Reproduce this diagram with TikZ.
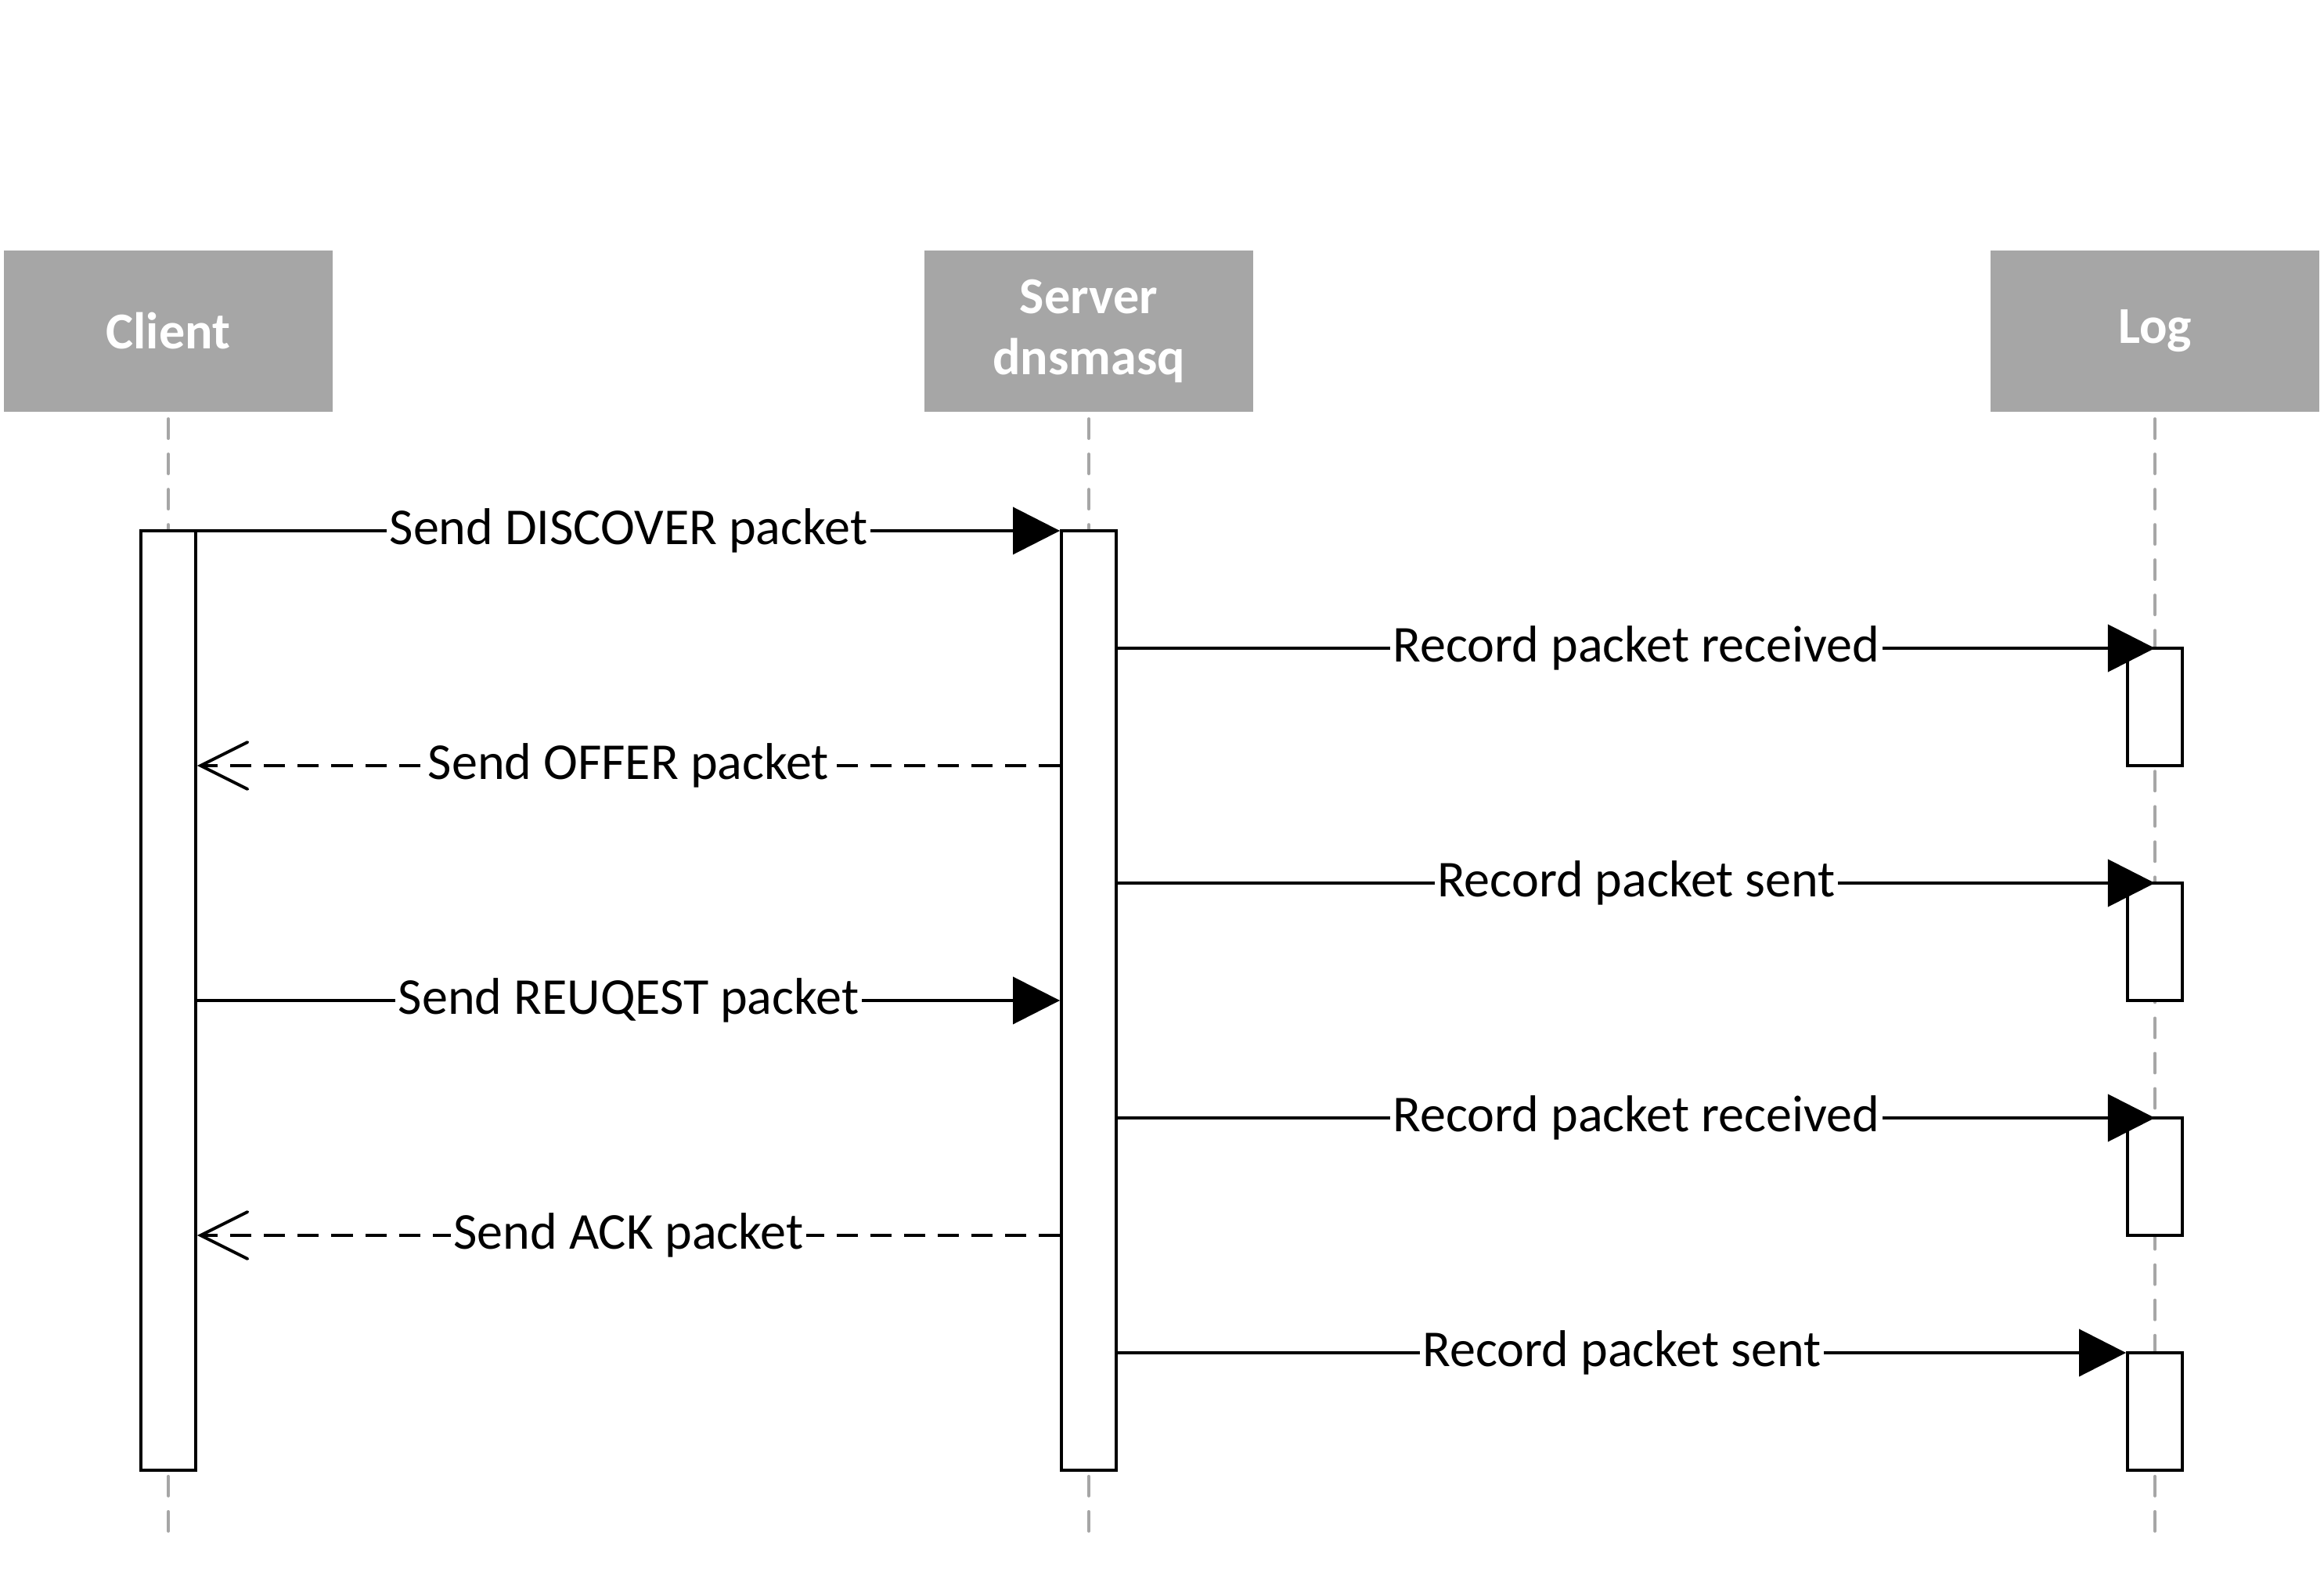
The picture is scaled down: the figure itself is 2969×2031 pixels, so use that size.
\documentclass[tikz,border=0pt]{standalone}
\usepackage{fontspec}
\setmainfont{Carlito}
\usetikzlibrary{arrows.meta}

\definecolor{headgray}{HTML}{A6A6A6}
\newcommand\diagfont{\fontsize{18.8}{22.2}\selectfont}

\tikzset{
	head/.style={fill=headgray, text=white, font=\diagfont\bfseries, align=center,
		minimum width=4.2cm, minimum height=2.06cm, inner sep=0pt},
	lifeline/.style={draw=headgray, line cap=round, dash pattern=on 0.25cm off 0.2cm},
	actbar/.style={draw, fill=white, minimum width=0.7cm, inner sep=0pt},
	call/.style={-{Triangle[length=0.6cm,width=0.6cm]}},
	reply/.style={dash pattern=on 0.27cm off 0.16cm,
		-{Straight Barb[length=0.6cm,width=0.6cm,line cap=round]}},
	msglabel/.style={fill=white, inner sep=1pt, font=\diagfont}
}

\begin{document}
\begin{tikzpicture}[x=0.01cm, y=-0.01cm, line width=1.1pt]
	\useasboundingbox (0,0) rectangle (2969,2031);
	% participants
	\node[head] (client) at (215,423) {Client};
	\node[head] (server) at (1391,423) {Server\\dnsmasq};
	\node[head] (log) at (2753,423) {Log};
	% lifelines
	\coordinate (bottom) at (0,1956);
	\foreach \p in {client,server,log}
		\draw[lifeline] ([yshift=-2pt]\p.south) -- (\p.south |- bottom);
	% activation bars
	\node[actbar, minimum height=12cm] (cbar) at (215,1278) {};
	\node[actbar, minimum height=12cm] (sbar) at (1391,1278) {};
	\foreach \i/\y in {1/903,2/1203,3/1503,4/1803}
		\node[actbar, minimum height=1.5cm] (lbar\i) at (2753,\y) {};
	% message rows
	\foreach \i in {1,...,8}
		\coordinate (m\i) at (0,528+150*\i);
	% messages
	\draw[call] (cbar.east |- m1) -- node[msglabel] {Send DISCOVER packet} (sbar.west |- m1);
	\draw[call] (sbar.east |- m2) -- node[msglabel] {Record packet received} (lbar1.north |- m2);
	\draw[reply] (sbar.west |- m3) -- node[msglabel] {Send OFFER packet} (cbar.east |- m3);
	\draw[call] (sbar.east |- m4) -- node[msglabel] {Record packet sent} (lbar2.north |- m4);
	\draw[call] (cbar.east |- m5) -- node[msglabel] {Send REUQEST packet} (sbar.west |- m5);
	\draw[call] (sbar.east |- m6) -- node[msglabel] {Record packet received} (lbar3.north |- m6);
	\draw[reply] (sbar.west |- m7) -- node[msglabel] {Send ACK packet} (cbar.east |- m7);
	\draw[call] (sbar.east |- m8) -- node[msglabel] {Record packet sent} (lbar4.north west |- m8);
\end{tikzpicture}
\end{document}
